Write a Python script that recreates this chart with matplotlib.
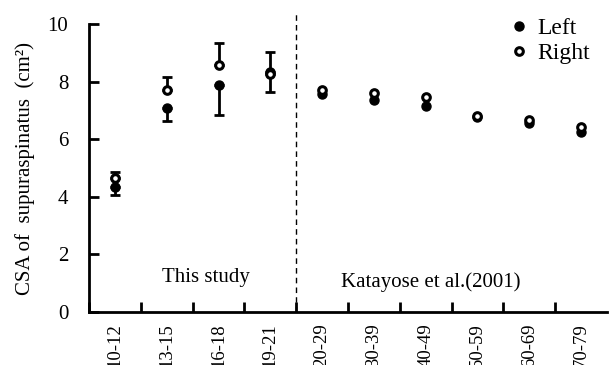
import matplotlib
matplotlib.use("Agg")
import matplotlib.pyplot as plt
import numpy as np

plt.rcParams['font.family'] = ['Liberation Serif', 'DejaVu Serif']

# age groups: first four are this study, rest are Katayose et al.(2001)
groups = ["10-12", "13-15", "16-18", "19-21", "20-29", "30-39",
          "40-49", "50-59", "60-69", "70-79"]
left = [4.34, 7.07, 7.88, 8.32, 7.56, 7.36, 7.15, 6.78, 6.56, 6.25]
right = [4.65, 7.71, 8.58, 8.26, 7.70, 7.60, 7.46, 6.80, 6.66, 6.42]
# SD only known for this study (left shown below, right shown above)
left_sd = [0.28, 0.43, 1.04, 0.67]
right_sd = [0.23, 0.44, 0.78, 0.78]

fig, ax = plt.subplots(figsize=(6.1, 3.65), dpi=100)
fig.subplots_adjust(left=0.146, right=0.995, top=0.934, bottom=0.145)

x = np.arange(len(groups))
n = len(left_sd)

# error bars (drawn first so markers sit on top)
ax.errorbar(x[:n], left[:n], yerr=[left_sd, [0] * n], fmt='none',
            ecolor='black', elinewidth=2, capsize=3.5, capthick=2)
ax.errorbar(x[:n], right[:n], yerr=[[0] * n, right_sd], fmt='none',
            ecolor='black', elinewidth=2, capsize=3.5, capthick=2)

ax.plot(x, left, 'o', color='black', markersize=6.5, label='Left', zorder=3)
ax.plot(x, right, 'o', markerfacecolor='white', markeredgecolor='black',
        markeredgewidth=2.2, markersize=5.5, label='Right', zorder=4)

# divider between the two data sources
ax.plot([3.5, 3.5], [0, 10.45], color='black', lw=1, ls=(0, (4, 3)),
        clip_on=False)

ax.set_xlim(-0.5, 9.5)
ax.set_ylim(0, 10)
ax.set_yticks([0, 2, 4, 6, 8, 10])
ax.set_xticks(np.arange(-0.5, 9.5, 1), minor=False)
ax.set_xticklabels([])
ax.set_xticks(x, minor=True)
ax.set_xticklabels(groups, minor=True, rotation=90, fontsize=13.5)
ax.tick_params(axis='x', which='minor', length=0, pad=8)
ax.tick_params(axis='x', which='major', direction='in', length=7, width=2)
ax.tick_params(axis='y', direction='in', length=7, width=2, labelsize=15, pad=15)

for s in ['top', 'right']:
    ax.spines[s].set_visible(False)
for s in ['left', 'bottom']:
    ax.spines[s].set_linewidth(2)

ax.set_ylabel("CSA of  supuraspinatus  (cm²)", fontsize=15, labelpad=9)

ax.text(1.75, 1.2, "This study", ha='center', va='center', fontsize=15)
ax.text(6.1, 1.05, "Katayose et al.(2001)", ha='center', va='center', fontsize=15)

ax.legend(loc='upper right', frameon=False, fontsize=17, handletextpad=0.25,
          borderaxespad=0.0, bbox_to_anchor=(0.985, 1.055), labelspacing=0.15,
          handlelength=1.0)

fig.savefig("out.png", dpi=100)
